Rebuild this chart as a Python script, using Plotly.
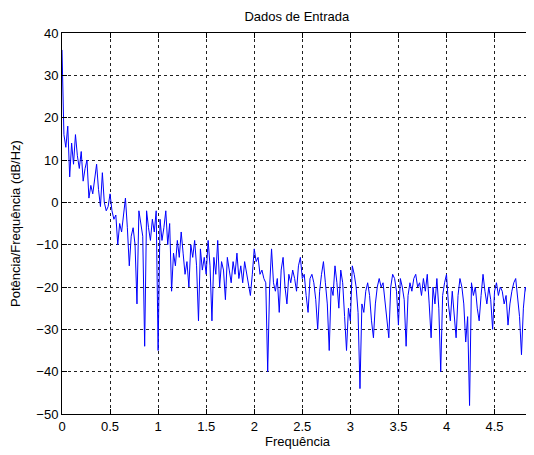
import plotly.graph_objects as go

# Frequency grid step (Hz-normalized units) and PSD values (dB/Hz)
FREQ_STEP = 0.02
psd_db = [
    36, 16, 13, 18, 6, 14, 9, 16, 11, 8,
    12, 5, 8, 10, 1, 4, 2, 5, 9, 3,
    -1, 7, 0, -2, -1, 2, -2, -4, -3, -10,
    -5, -7, -3, 1, -6, -15, -8, -6, -10, -24,
    -2, -5, -8, -34, -2, -6, -9, -4, -7, -2,
    -35, -4, -9, -6, -2, -10, -5, -21, -12, -15,
    -9, -13, -7, -12, -17, -14, -20, -10, -13, -9,
    -15, -28, -11, -16, -13, -17, -9, -15, -28, -13,
    -17, -9, -20, -14, -16, -23, -13, -16, -19, -14,
    -17, -12, -18, -15, -19, -14, -17, -20, -22, -17,
    -11, -14, -13, -17, -16, -18, -19, -40, -20, -11,
    -19, -21, -18, -26, -16, -13, -20, -24, -17, -19,
    -16, -18, -21, -15, -13, -18, -17, -22, -26, -18,
    -17, -19, -23, -30, -21, -17, -14, -19, -24, -35,
    -20, -22, -15, -19, -25, -16, -19, -27, -35, -25,
    -28, -15, -17, -20, -26, -44, -24, -26, -21, -19,
    -22, -28, -32, -24, -20, -18, -20, -19, -23, -27,
    -32, -20, -17, -18, -21, -29, -18, -20, -23, -34,
    -22, -19, -21, -18, -17, -20, -19, -22, -18, -21,
    -17, -24, -32, -20, -24, -18, -25, -40, -22, -19,
    -17, -24, -28, -21, -26, -32, -22, -18, -20, -24,
    -33, -27, -48, -19, -22, -20, -25, -28, -22, -17,
    -21, -24, -20, -23, -30, -21, -19, -22, -20, -21,
    -24, -22, -29, -24, -21, -19, -18, -22, -27, -36,
    -25, -20, -22, -19, -24, -21,
]
freq = [round(i * FREQ_STEP, 2) for i in range(len(psd_db))]

x_tick_vals = [0, 0.5, 1, 1.5, 2, 2.5, 3, 3.5, 4, 4.5]
x_tick_text = ["0", "0.5", "1", "1.5", "2", "2.5", "3", "3.5", "4", "4.5"]
y_tick_vals = [40, 30, 20, 10, 0, -10, -20, -30, -40, -50]

FONT = "Liberation Sans, Arial, sans-serif"

fig = go.Figure()
fig.add_trace(go.Scatter(
    x=freq, y=psd_db, mode="lines",
    line=dict(color="#0000FF", width=1),
    showlegend=False, hoverinfo="skip",
))

axis_common = dict(
    showline=True, linecolor="black", linewidth=1, mirror="ticks",
    ticks="inside", ticklen=5, tickcolor="black",
    showgrid=True, gridcolor="#202020", gridwidth=1, griddash="3px,3px",
    zeroline=False, automargin=False,
    tickfont=dict(family=FONT, size=13, color="black"),
)

# page body has an 8px margin, so the figure is sized to fit the window
fig.update_layout(
    width=526, height=447,
    margin=dict(l=54, r=1, t=25, b=41),
    paper_bgcolor="white", plot_bgcolor="white",
    title=dict(text="Dados de Entrada", x=0.549, xanchor="center", y=0.98, yanchor="middle",
               font=dict(family=FONT, size=13, color="black")),
    xaxis=dict(range=[0, 4.9], tickvals=x_tick_vals, ticktext=x_tick_text,
               title=dict(text="Frequência", standoff=2,
                          font=dict(family=FONT, size=13, color="black")),
               **axis_common),
    yaxis=dict(range=[-50, 40], tickvals=y_tick_vals,
               title=dict(text="Potência/Frequência (dB/Hz)", standoff=14,
                          font=dict(family=FONT, size=13, color="black")),
               **axis_common),
)

fig.write_html("out.html")
